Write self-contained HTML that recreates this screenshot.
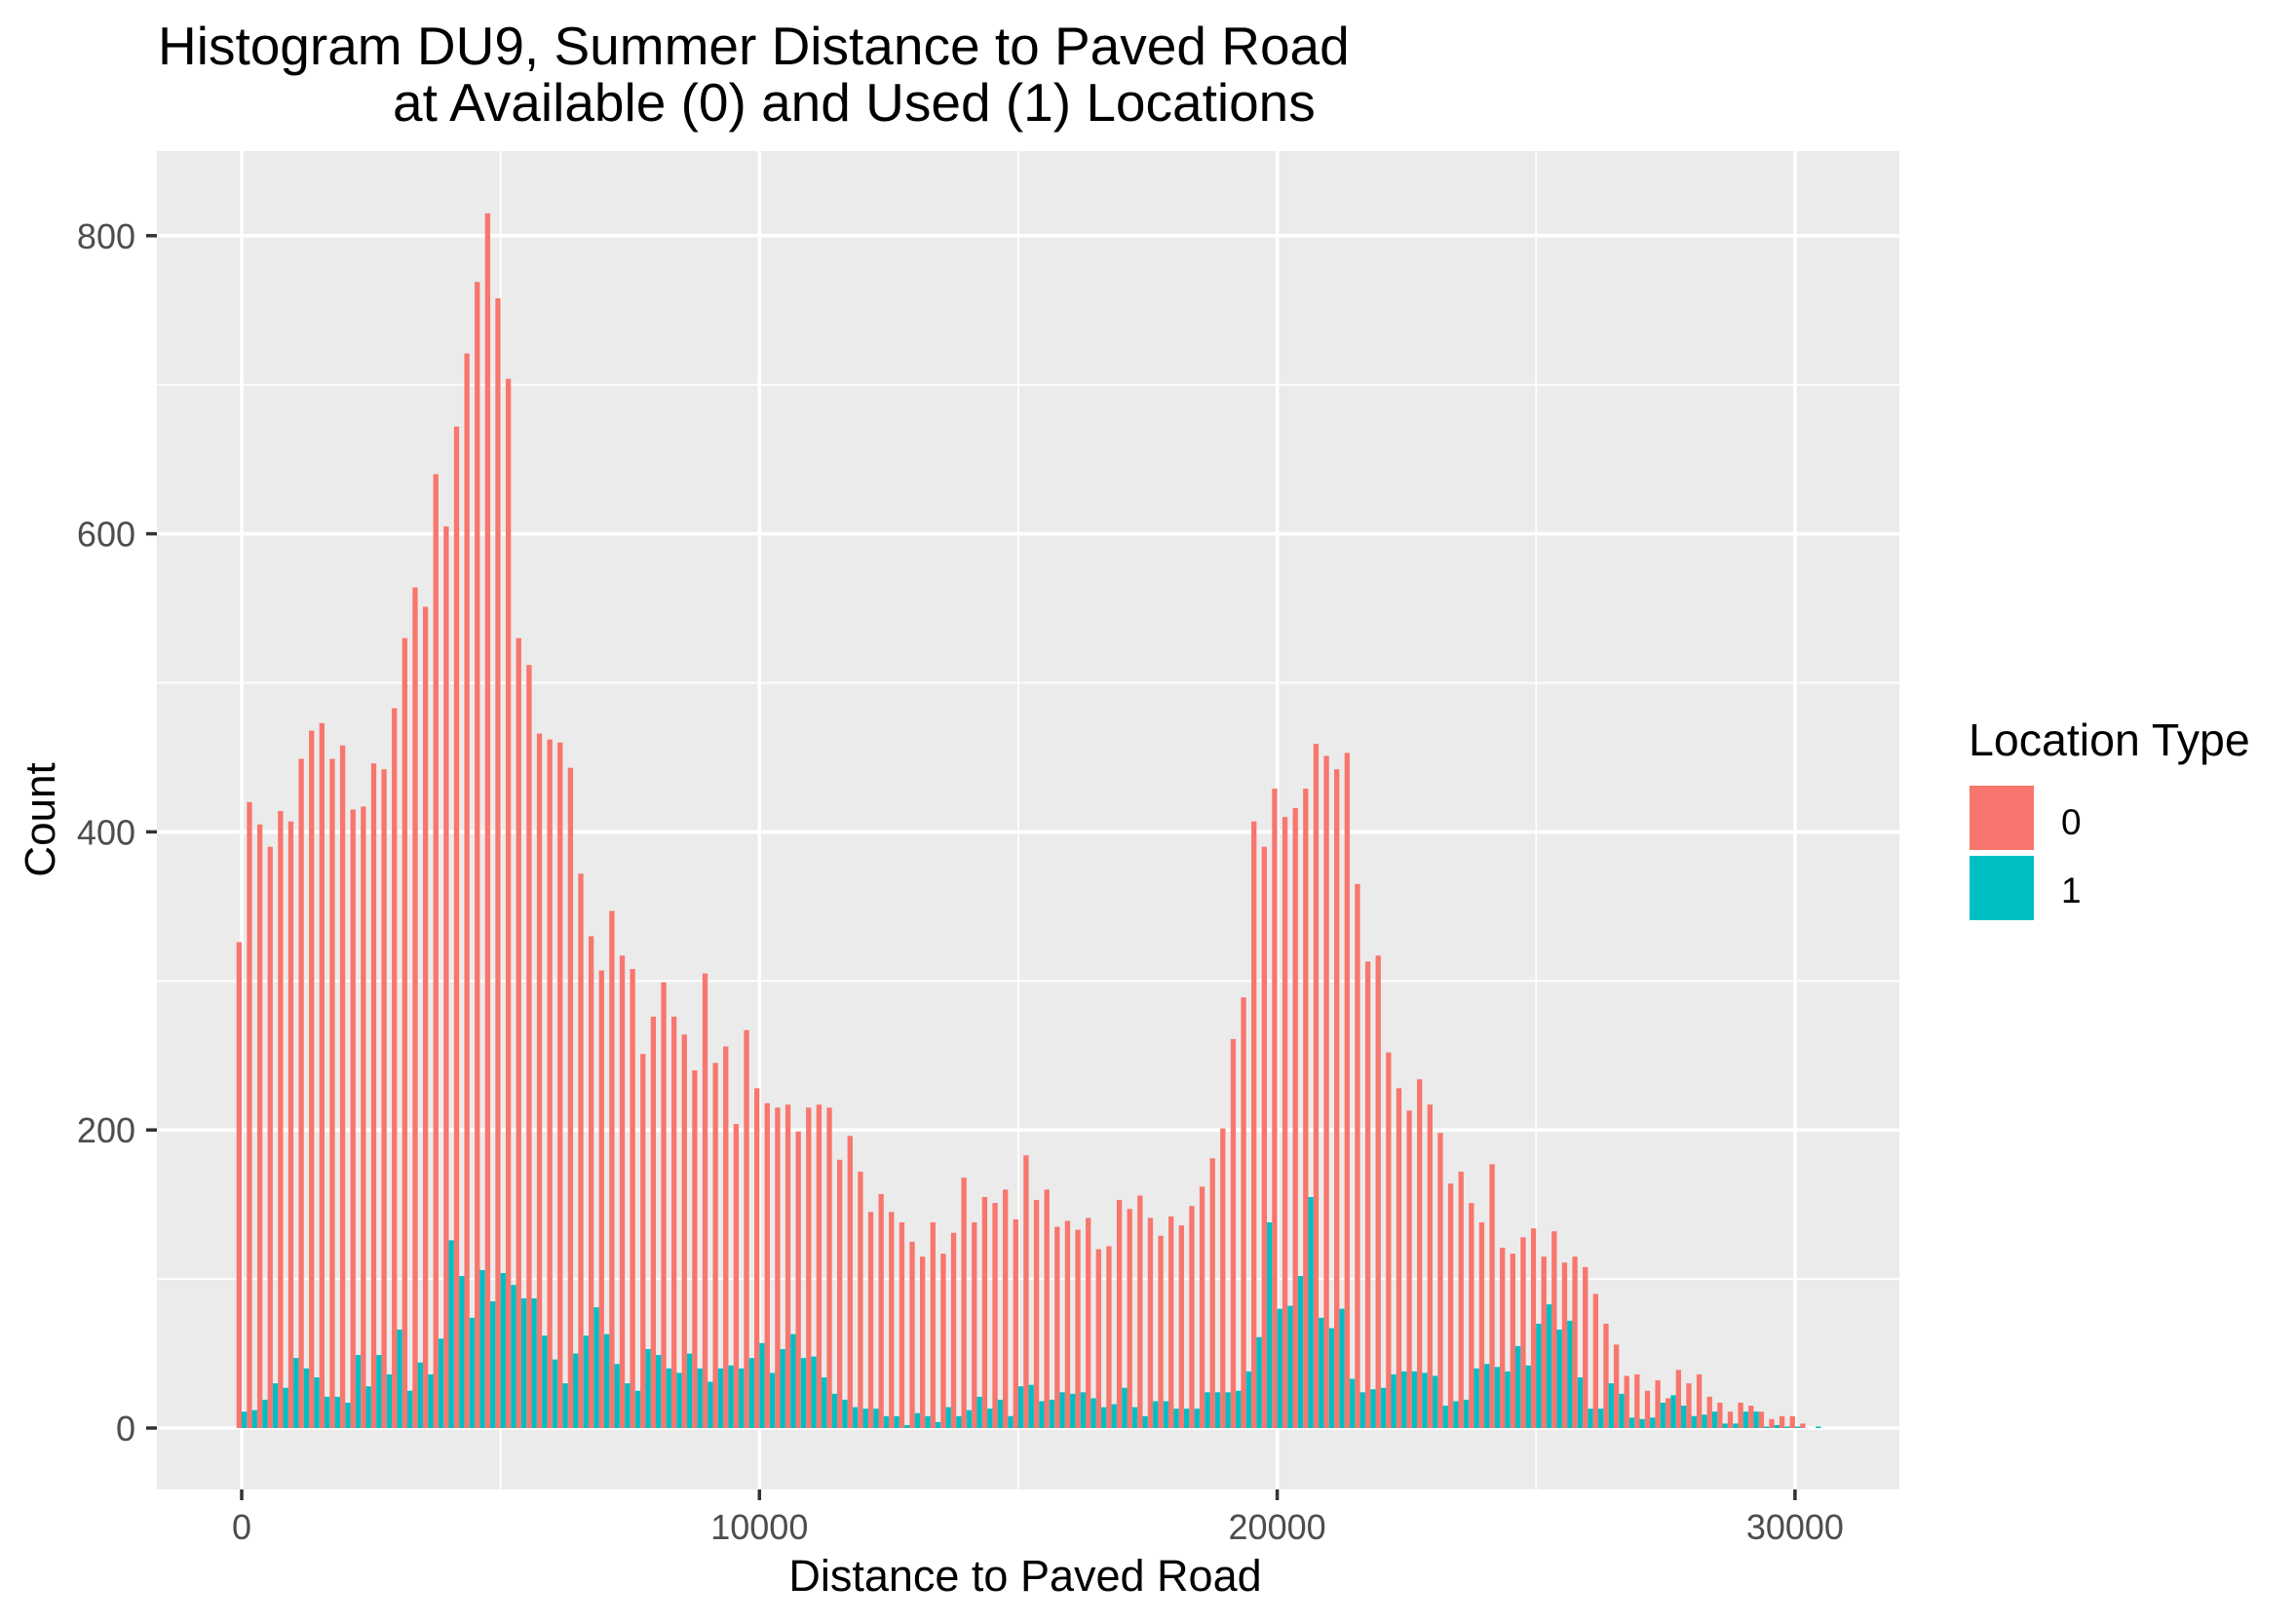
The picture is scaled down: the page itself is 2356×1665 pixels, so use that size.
<!DOCTYPE html>
<html><head><meta charset="utf-8"><style>
html,body{margin:0;padding:0;background:#fff;}
svg{display:block;font-family:"Liberation Sans",Arial,sans-serif;}
</style></head><body>
<svg id="chart" width="2356" height="1665" viewBox="0 0 2356 1665" xmlns="http://www.w3.org/2000/svg">
<rect x="0" y="0" width="2356" height="1665" fill="#ffffff"/>
<text x="162" y="66" font-size="55" fill="#000">Histogram DU9, Summer Distance to Paved Road</text>
<text x="403" y="124" font-size="55" fill="#000">at Available (0) and Used (1) Locations</text>
<rect x="161" y="155" width="1788" height="1373" fill="#EBEBEB"/>
<g id="grid"></g>
<g id="bars"></g>
<g id="axes"></g>
<text x="1052" y="1632" font-size="45" text-anchor="middle" fill="#000">Distance to Paved Road</text>
<text transform="translate(56,841) rotate(-90)" font-size="44" text-anchor="middle" fill="#000">Count</text>
<g>
<text x="2020" y="775" font-size="46.5" fill="#000">Location Type</text>
<rect x="2021" y="806" width="66" height="66" fill="#F8766D"/>
<text x="2115" y="856" font-size="37" fill="#000">0</text>
<rect x="2021" y="878" width="66" height="66" fill="#00BFC4"/>
<text x="2115" y="926" font-size="37" fill="#000">1</text>
</g>
</svg>
<script>
const binWidth = 200;
const availableCounts = [326,420,405,390,414,407,449,468,473,449,458,415,417,446,442,483,530,564,551,640,605,672,721,769,815,758,704,530,512,466,462,460,443,372,330,307,347,317,
308,251,276,299,276,264,240,305,245,256,204,267,228,218,215,217,199,215,217,215,180,196,172,145,157,145,138,125,115,138,117,131,168,138,155,151,160,140,183,
153,160,135,139,133,141,120,122,153,147,156,141,129,142,136,149,162,181,201,
261,289,407,390,429,410,416,429,459,451,442,453,365,313,317,252,228,213,234,217,198,164,172,151,138,177,121,117,128,134,115,132,111,115,108,90,70,56,35,36,
25,32,20,39,30,36,21,17,11,17,15,11,6,8,8,3,0];
const usedCounts = [11,12,19,30,27,47,40,34,21,21,17,49,28,49,36,66,25,44,36,60,126,102,74,106,85,104,96,87,87,62,46,30,50,62,81,63,43,30,
25,53,49,40,37,50,40,31,40,42,40,47,57,37,53,63,47,48,34,23,19,14,13,13,8,8,2,10,8,4,14,8,12,21,13,19,8,28,29,
18,19,24,23,24,20,14,16,27,14,8,18,18,13,13,13,24,24,24,
25,38,61,138,80,82,102,155,74,67,80,33,24,26,27,36,38,38,37,35,15,18,19,40,43,41,38,55,42,70,83,66,72,34,13,13,30,23,7,6,
7,17,22,15,8,9,11,3,3,11,11,1,2,1,1,0,1];
const yTicks = [0,200,400,600,800];
const yMinor = [100,300,500,700];
const xTicks = [0,10000,20000,30000];
const xMinor = [5000,15000,25000];

const NS = "http://www.w3.org/2000/svg";
const PL = 161, PR = 1949, PT = 155, PB = 1528;
function xs(v){ return 248 + v * 0.05313; }
function ys(v){ return 1465 - v * 1.529; }
function mk(tag, attrs, parent){
  const e = document.createElementNS(NS, tag);
  for (const k in attrs) e.setAttribute(k, attrs[k]);
  parent.appendChild(e);
  return e;
}
const grid = document.getElementById('grid');
yMinor.forEach(v => {
  const l = mk('line', {x1:PL, x2:PR, y1:ys(v), y2:ys(v), stroke:'#fff', 'stroke-width':1.8}, grid);
  
  
});
xMinor.forEach(v => {
  const l = mk('line', {x1:xs(v), x2:xs(v), y1:PT, y2:PB, stroke:'#fff', 'stroke-width':1.8}, grid);
  
  
});
yTicks.forEach(v => {
  const l = mk('line', {x1:PL, x2:PR, y1:ys(v), y2:ys(v), stroke:'#fff', 'stroke-width':3.6}, grid);
  
  
});
xTicks.forEach(v => {
  const l = mk('line', {x1:xs(v), x2:xs(v), y1:PT, y2:PB, stroke:'#fff', 'stroke-width':3.6}, grid);
  
  
});
const bars = document.getElementById('bars');
availableCounts.forEach((c, i) => {
  const cx = i * binWidth;
  const x0 = xs(cx - binWidth/2), x1 = xs(cx);
  const r = mk('rect', {x:x0, y:ys(c), width:x1-x0, height:ys(0)-ys(c), fill:'#F8766D'}, bars);
  
  
});
usedCounts.forEach((c, i) => {
  const cx = i * binWidth;
  const x0 = xs(cx), x1 = xs(cx + binWidth/2);
  const r = mk('rect', {x:x0, y:ys(c), width:x1-x0, height:ys(0)-ys(c), fill:'#00BFC4'}, bars);
  
  
});
const axes = document.getElementById('axes');
yTicks.forEach(v => {
  const t = mk('line', {x1:150, x2:161, y1:ys(v), y2:ys(v), stroke:'#333', 'stroke-width':3.5}, axes);
  
  
  const lb = mk('text', {x:139, y:ys(v)+13, 'font-size':36, fill:'#4D4D4D', 'text-anchor':'end'}, axes);
  lb.textContent = String(v);
  
  
});
xTicks.forEach(v => {
  const t = mk('line', {x1:xs(v), x2:xs(v), y1:1528, y2:1539, stroke:'#333', 'stroke-width':3.5}, axes);
  
  
  const lb = mk('text', {x:xs(v), y:1579, 'font-size':36, fill:'#4D4D4D', 'text-anchor':'middle'}, axes);
  lb.textContent = String(v);
  
  
});
</script>
</body></html>
